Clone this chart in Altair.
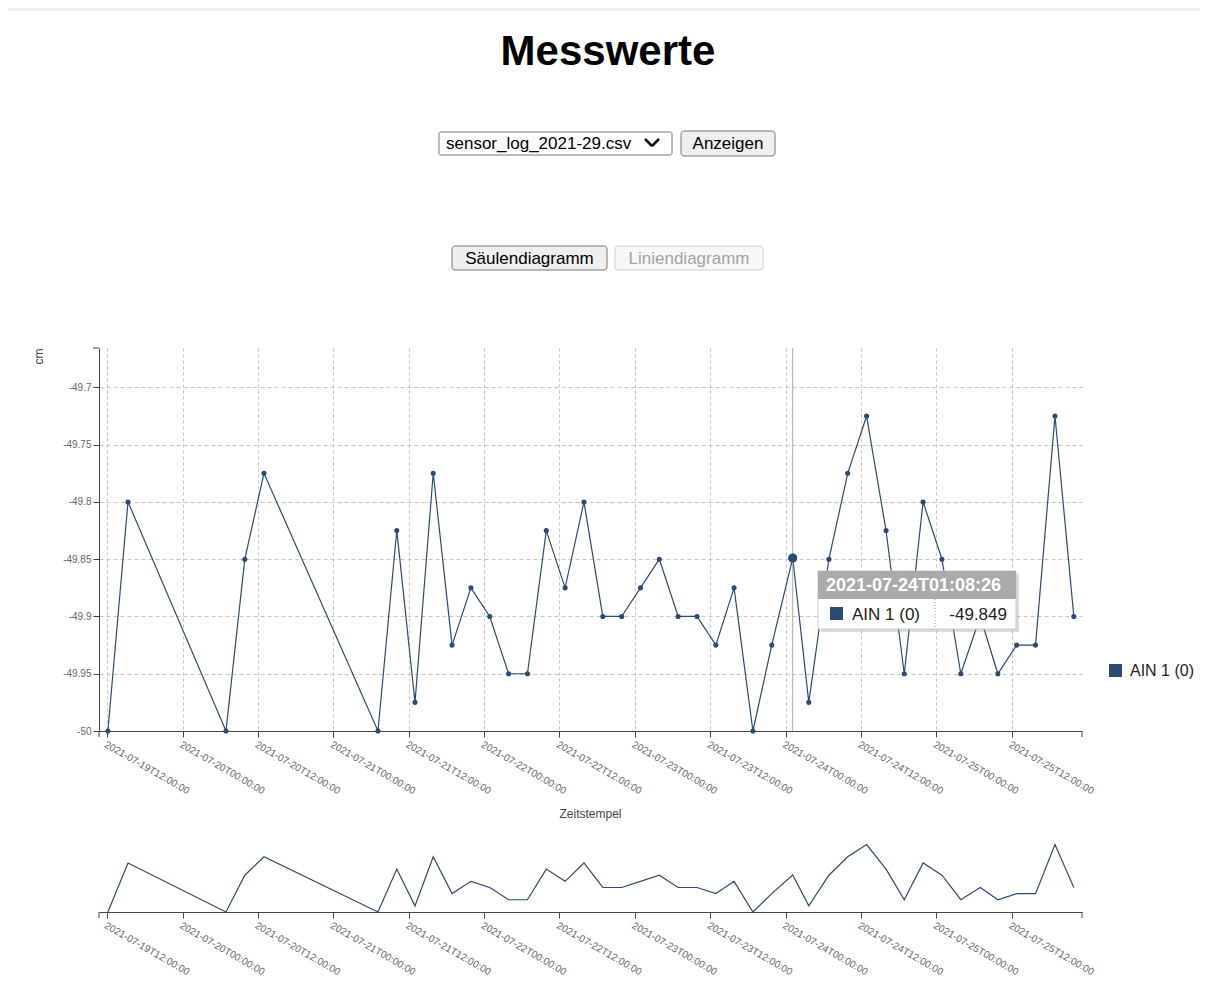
import altair as alt
import pandas as pd

# ---------------- data ----------------
times = [
    "2021-07-19T12:06:00", "2021-07-19T15:18:00", "2021-07-20T06:54:00", "2021-07-20T09:54:00",
    "2021-07-20T12:57:00", "2021-07-21T07:06:00", "2021-07-21T10:06:00", "2021-07-21T13:00:00",
    "2021-07-21T15:54:00", "2021-07-21T18:54:00", "2021-07-21T21:54:00", "2021-07-22T00:54:00",
    "2021-07-22T03:54:00", "2021-07-22T06:54:00", "2021-07-22T09:54:00", "2021-07-22T12:54:00",
    "2021-07-22T15:54:00", "2021-07-22T18:54:00", "2021-07-22T21:54:00", "2021-07-23T00:54:00",
    "2021-07-23T03:54:00", "2021-07-23T06:54:00", "2021-07-23T09:54:00", "2021-07-23T12:54:00",
    "2021-07-23T15:48:00", "2021-07-23T18:48:00", "2021-07-23T21:48:00", "2021-07-24T01:08:26",
    "2021-07-24T03:42:00", "2021-07-24T06:54:00", "2021-07-24T09:54:00", "2021-07-24T12:54:00",
    "2021-07-24T16:00:00", "2021-07-24T18:54:00", "2021-07-24T21:54:00", "2021-07-25T00:54:00",
    "2021-07-25T03:54:00", "2021-07-25T07:00:00", "2021-07-25T09:48:00", "2021-07-25T12:48:00",
    "2021-07-25T15:48:00", "2021-07-25T18:54:00", "2021-07-25T21:54:00",
]
values = [
    -50, -49.8, -50, -49.85, -49.775, -50, -49.825, -49.975, -49.775, -49.925,
    -49.875, -49.9, -49.95, -49.95, -49.825, -49.875, -49.8, -49.9, -49.9, -49.875,
    -49.85, -49.9, -49.9, -49.925, -49.875, -50, -49.925, -49.849, -49.975, -49.85,
    -49.775, -49.725, -49.825, -49.95, -49.8, -49.85, -49.95, -49.9, -49.95, -49.925,
    -49.925, -49.725, -49.9,
]
series_name = "AIN 1 (0)"
highlight_time = "2021-07-24T01:08:26"
highlight_label = "-49.849"
y_ticks = [-50, -49.95, -49.9, -49.85, -49.8, -49.75, -49.7]
x_tick_days = [(19, 12), (20, 0), (20, 12), (21, 0), (21, 12), (22, 0), (22, 12),
               (23, 0), (23, 12), (24, 0), (24, 12), (25, 0), (25, 12)]
x_domain = [(19, 10, 41), (25, 23, 12)]
y_domain = [-50, -49.6656]

df = pd.DataFrame({"t": times, "v": values})
hl = df[df["t"] == highlight_time]
one = pd.DataFrame({"k": [0]})

C = "#2c4a72"
W, H, HS = 983, 383, 82
HEADER_H = 328

x_vals = [alt.DateTime(year=2021, month=7, date=d, hours=h) for d, h in x_tick_days]
x_dom = [alt.DateTime(year=2021, month=7, date=d, hours=h, minutes=m) for d, h, m in x_domain]


def txt(s, x, y, size, **kw):
    return alt.Chart(one).mark_text(fontSize=size, **kw).encode(
        x=alt.value(x), y=alt.value(y), text=alt.value(s))


def box(x, x2, y, y2, **kw):
    return alt.Chart(one).mark_rect(**kw).encode(
        x=alt.value(x), x2=alt.value(x2), y=alt.value(y), y2=alt.value(y2))


def seg(x, y, x2, y2, **kw):
    return alt.Chart(one).mark_rule(**kw).encode(
        x=alt.value(x), y=alt.value(y), x2=alt.value(x2), y2=alt.value(y2))


# ---------------- header (page controls) ----------------
header = alt.layer(
    box(-91, 1101, 0, HEADER_H, fill="white"),
    box(-91, 1101, 0, 3, fill="#efefef"),
    txt("Messwerte", 509, 57, 42, fontWeight="bold", align="center", baseline="alphabetic", color="black"),
    # select box
    box(340, 573, 124, 147, fill="white", stroke="#767676", strokeWidth=1, cornerRadius=2),
    txt("sensor_log_2021-29.csv", 347, 136, 17, align="left", baseline="middle", color="black"),
    seg(546, 131, 553, 138, color="black", strokeWidth=2.5),
    seg(553, 138, 560, 131, color="black", strokeWidth=2.5),
    # button
    box(582, 676, 123, 148, fill="#efefef", stroke="#767676", strokeWidth=1, cornerRadius=3),
    txt("Anzeigen", 629, 136, 17, align="center", baseline="middle", color="black"),
    # chart type buttons
    box(353, 508, 238, 262, fill="#efefef", stroke="#767676", strokeWidth=1, cornerRadius=3),
    txt("Säulendiagramm", 430.5, 250.5, 17, align="center", baseline="middle", color="black"),
    box(516, 664, 238, 262, fill="#f7f7f7", stroke="#cfcfcf", strokeWidth=1, cornerRadius=3),
    txt("Liniendiagramm", 590, 250.5, 17, align="center", baseline="middle", color="#a3a3a3"),
).properties(width=W, height=HEADER_H)

# ---------------- main chart ----------------
x_axis_main = alt.Axis(
    values=x_vals, format="%Y-%m-%dT%H:%M:%S", labelAngle=30, labelAlign="left",
    labelBaseline="top", labelFontSize=10, labelColor="#666", labelPadding=2,
    labelFlush=False, labelOverlap=False, tickSize=6, tickColor="#444", domainColor="#444",
    grid=True, gridDash=[3, 3], gridColor="#c4c4c4",
    title="Zeitstempel", titleFontSize=12, titleFontWeight="normal", titleColor="#444",
    titleX=491, titleY=82, titleBaseline="middle", titleAlign="center",
)
y_axis_main = alt.Axis(
    values=y_ticks, labelExpr="'' + round(datum.value * 100) / 100",
    tickSize=6, labelPadding=2, labelFontSize=10, labelColor="#666",
    tickColor="#444", domainColor="#444",
    grid=True, gridDash=[4, 3], gridColor="#c4c4c4",
    title="cm", titleFontSize=12, titleFontWeight="normal", titleColor="#444",
    titleAngle=-90, titleX=-61, titleY=0, titleAlign="right", titleBaseline="middle",
)

X = alt.X("t:T", scale=alt.Scale(domain=x_dom), axis=x_axis_main)
Y = alt.Y("v:Q", scale=alt.Scale(domain=y_domain, nice=False, zero=False), axis=y_axis_main)

base = alt.Chart(df).encode(x=X, y=Y)
line = base.mark_line(color=C, strokeWidth=1.2)
pts = base.mark_point(filled=True, color=C, size=26, opacity=1)
focus = alt.Chart(hl).mark_rule(color="#aaaaaa", strokeWidth=1).encode(x=alt.X("t:T"))
hl_pt = alt.Chart(hl).mark_point(filled=True, color=C, size=85, opacity=1).encode(
    x=alt.X("t:T"), y=alt.Y("v:Q"))

TX0, TX1, TY0, TY1, TY2 = 719, 917, 223, 251, 281
tooltip = [
    box(TX0 + 3, TX1 + 3, TY0 + 3, TY2 + 3, fill="#999", opacity=0.35),
    box(TX0, TX1, TY0, TY2, fill="white", stroke="#cccccc", strokeWidth=1),
    box(TX0, TX1, TY0, TY1, fill="#aaaaaa"),
    txt(highlight_time, 727, 237.5, 18, fontWeight="bold", align="left", baseline="middle", color="white"),
    box(731, 744, 259, 272, fill=C),
    txt(series_name, 753, 266.5, 17, align="left", baseline="middle", color="#222"),
    seg(836, TY1, 836, TY2, color="#999", strokeDash=[1, 2], strokeWidth=1),
    txt(highlight_label, 908, 266.5, 17, align="right", baseline="middle", color="#222"),
]
legend = [
    box(1010, 1023, 316, 329, fill=C),
    txt(series_name, 1031, 323, 16, align="left", baseline="middle", color="#222"),
]
outer = [
    seg(-6, 0, 0, 0, color="#444", strokeWidth=1),
    seg(0, H, 0, H + 6, color="#444", strokeWidth=1),
    seg(W, H, W, H + 6, color="#444", strokeWidth=1),
]

main = alt.layer(line, focus, pts, hl_pt, *outer, *tooltip, *legend).properties(width=W, height=H)

# ---------------- sub chart ----------------
x_axis_sub = alt.Axis(
    values=x_vals, format="%Y-%m-%dT%H:%M:%S", labelAngle=30, labelAlign="left",
    labelBaseline="top", labelFontSize=10, labelColor="#666", labelPadding=2,
    labelFlush=False, labelOverlap=False, tickSize=6, tickColor="#444", domainColor="#444",
    grid=False,
)
sub_line = alt.Chart(df).mark_line(color=C, strokeWidth=1.2).encode(
    x=alt.X("t:T", scale=alt.Scale(domain=x_dom), axis=x_axis_sub, title=None),
    y=alt.Y("v:Q", scale=alt.Scale(domain=y_domain, nice=False, zero=False), axis=None),
)
sub = alt.layer(
    sub_line,
    seg(0, HS, 0, HS + 6, color="#444", strokeWidth=1),
    seg(W, HS, W, HS + 6, color="#444", strokeWidth=1),
).properties(width=W, height=HS)

chart = (
    alt.vconcat(header, main, sub, spacing=11)
    .resolve_scale(x="independent", y="independent")
    .properties(padding=0)
    .configure(font="Liberation Sans")
    .configure_view(strokeWidth=0)
)

chart.save("out.html", embed_options={"renderer": "svg", "actions": False})
